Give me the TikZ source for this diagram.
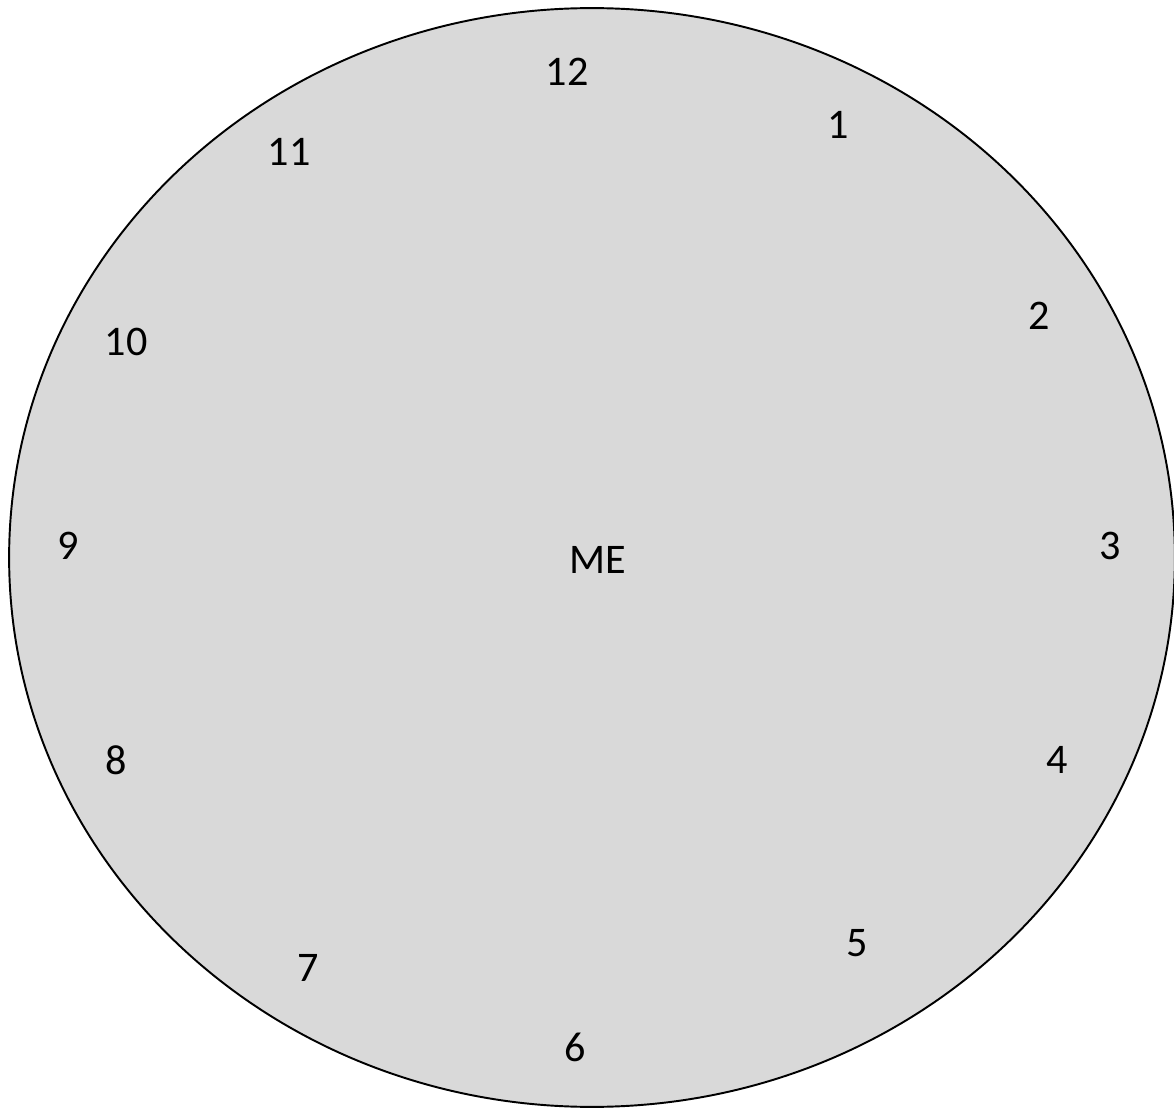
\documentclass[tikz,border=0pt]{standalone}
\usepackage{fontspec}
\setmainfont{Carlito}
\usepackage{xcolor}
\usepackage{tikz}
\usetikzlibrary{shapes.geometric}
\definecolor{facecolor}{HTML}{D9D9D9}

\begin{document}
\begin{tikzpicture}[
    x=0.02cm, y=-0.02cm,
    face/.style={ellipse, draw, line width=1.1pt,
                 fill=facecolor,
                 inner sep=0pt,
                 minimum width=23.32cm,
                 minimum height=21.98cm},
    hour/.style={inner sep=0pt, font=\fontsize{24}{28}\selectfont}
]
\useasboundingbox (0,0) rectangle (1174,1108);
\node[face] (face) at (592,557.5) {};
\node[hour] (me) at (598,560) {ME};

\node[hour] (h12) at (567,72) {12};
\node[hour] (h1) at (838,125) {1};
\node[hour] (h2) at (1039,316) {2};
\node[hour] (h3) at (1110,546) {3};
\node[hour] (h4) at (1057,760) {4};
\node[hour] (h5) at (857,943) {5};
\node[hour] (h6) at (575,1047) {6};
\node[hour] (h7) at (308,968) {7};
\node[hour] (h8) at (116,760) {8};
\node[hour] (h9) at (68,546) {9};
\node[hour] (h10) at (126,342) {10};
\node[hour] (h11) at (289,152) {11};
\end{tikzpicture}
\end{document}
